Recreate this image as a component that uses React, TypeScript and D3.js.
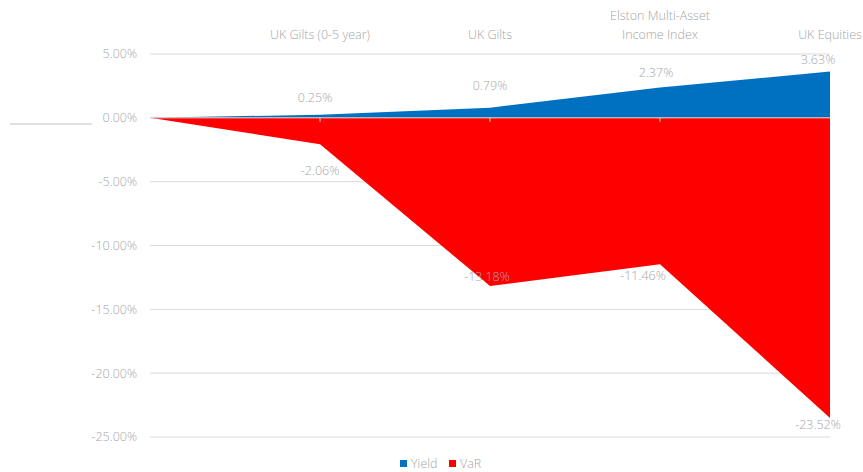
import React from "react";
import * as d3 from "d3";

const categories = ["", "UK Gilts (0-5 year)", "UK Gilts", "Elston Multi-Asset\nIncome Index", "UK Equities"];
const yieldValues = [0, 0.25, 0.79, 2.37, 3.63];
const varValues = [0, -2.06, -13.18, -11.46, -23.52];
const yTicks = [5, 0, -5, -10, -15, -20, -25];
const seriesNames = ["Yield", "VaR"];
const seriesColors = ["#0070C0", "#FF0000"];

const W = 863;
const H = 472;
const FONT = "'Open Sans', 'Segoe UI', sans-serif";
const TEXT = "#a6a6a6";
const FS = 12.5;

export default function App() {
  const x = d3.scalePoint<number>().domain(d3.range(categories.length)).range([150, 830]);
  const y = d3.scaleLinear().domain([-25, 5]).range([437, 54]);
  const area = (vals: number[]) =>
    d3.area<number>().x((_, i) => x(i)!).y0(y(0)).y1((d) => y(d))(vals) || "";

  const yieldOff: Record<number, [number, number]> = { 1: [-5, 102], 2: [0, 90], 3: [-4, 77], 4: [-12, 64] };
  const varOff: Record<number, [number, number]> = { 1: [0, 175], 2: [-3, 281], 3: [-17, 280], 4: [-12, 429] };

  return (
    <svg width={W} height={H} style={{ position: "absolute", left: 0, top: 0, fontFamily: FONT }}>
      <rect width={W} height={H} fill="#fff" />
      {yTicks.map((t) => (
        <g key={t}>
          <line x1={150} x2={830} y1={y(t)} y2={y(t)} stroke="#d9d9d9" strokeWidth={1} />
          <text x={137} y={y(t)} dy="0.35em" textAnchor="end" fontSize={FS} fill={TEXT} fontWeight={300}>
            {t.toFixed(2) + "%"}
          </text>
        </g>
      ))}
      <line x1={10} x2={92} y1={124} y2={124} stroke="#bfbfbf" strokeWidth={1} />
      <path d={area(yieldValues)} fill={seriesColors[0]} />
      <path d={area(varValues)} fill={seriesColors[1]} />
      <line x1={150} x2={830} y1={y(0)} y2={y(0)} stroke="#d9d9d9" strokeWidth={1} />
      {categories.map((c, i) =>
        i > 0 && i < categories.length - 1 ? (
          <line key={"t" + i} x1={x(i)} x2={x(i)} y1={y(0)} y2={y(0) + 4} stroke="#d9d9d9" />
        ) : null
      )}
      {categories.map((c, i) => {
        const lines = c.split("\n");
        return (
          <text key={"c" + i} textAnchor="middle" fontSize={FS} fill={TEXT} fontWeight={300}>
            {lines.map((l, j) => (
              <tspan key={j} x={x(i)} y={39 - (lines.length - 1 - j) * 19}>
                {l}
              </tspan>
            ))}
          </text>
        );
      })}
      {yieldValues.map((v, i) =>
        i > 0 ? (
          <text key={"y" + i} x={x(i)! + yieldOff[i][0]} y={yieldOff[i][1]} textAnchor="middle" fontSize={FS} fill={TEXT} fontWeight={300}>
            {v.toFixed(2) + "%"}
          </text>
        ) : null
      )}
      {varValues.map((v, i) =>
        i > 0 ? (
          <text key={"v" + i} x={x(i)! + varOff[i][0]} y={varOff[i][1]} textAnchor="middle" fontSize={FS} fill={TEXT} fontWeight={300}>
            {v.toFixed(2) + "%"}
          </text>
        ) : null
      )}
      {seriesNames.map((s, i) => (
        <g key={s} transform={`translate(${i === 0 ? 400 : 449},0)`}>
          <rect x={0} y={460} width={7} height={7} fill={seriesColors[i]} />
          <text x={11} y={468} fontSize={FS} fill={TEXT} fontWeight={300}>
            {s}
          </text>
        </g>
      ))}
    </svg>
  );
}
